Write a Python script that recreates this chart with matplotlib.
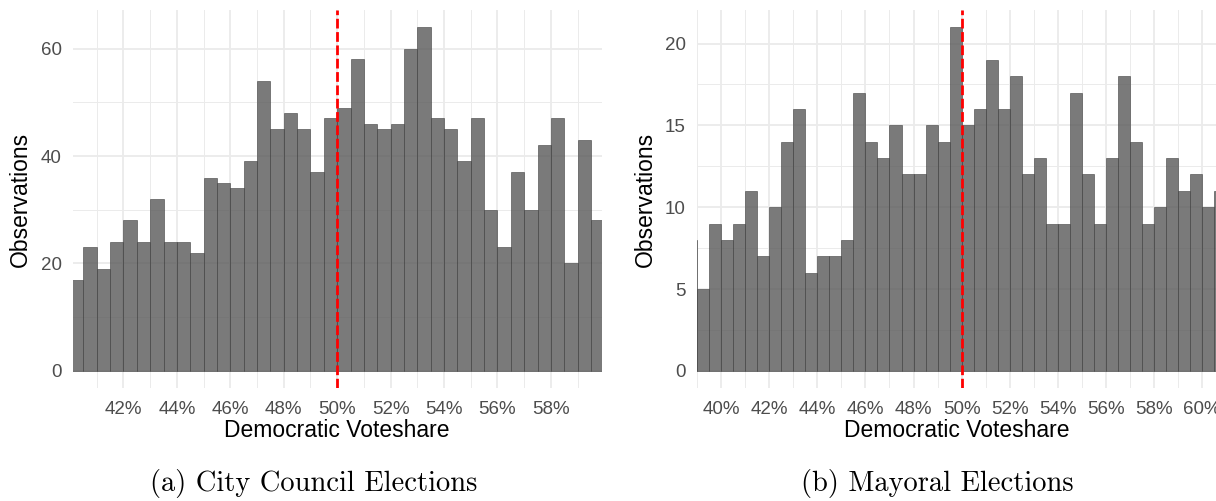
import numpy as np
import matplotlib.pyplot as plt
from matplotlib.ticker import MultipleLocator, FuncFormatter

plt.rcParams['font.family'] = ['Liberation Sans', 'DejaVu Sans']

# counts per 0.5-point bin of democratic voteshare
bin_width = 0.5
council_start = 40.0
council_counts = [17, 23, 19, 24, 28, 24, 32, 24, 24, 22,
                  36, 35, 34, 39, 54, 45, 48, 45, 37, 47,
                  49, 58, 46, 45, 46, 60, 64, 47, 45, 39,
                  47, 30, 23, 37, 30, 42, 47, 20, 43, 28]
mayor_start = 38.5
mayor_counts = [8, 5, 9, 8, 9, 11, 7, 10, 14, 16, 6, 7, 7, 8, 17, 14, 13, 15, 12, 12, 15, 14, 21,
                15, 16, 19, 16, 18, 12, 13, 9, 9, 17, 12, 9, 13, 18, 14, 9, 10, 13, 11, 12, 10, 11]
cutoff = 50
captions = ["(a) City Council Elections", "(b) Mayoral Elections"]

fig = plt.figure(figsize=(12.16, 5.01), dpi=100)
ax1 = fig.add_axes([0.0598, 0.2255, 0.435, 0.7545])
ax2 = fig.add_axes([0.5732, 0.2255, 0.4268, 0.7545])

panels = [
    (ax1, council_start, council_counts, (40.1, 59.9), 20, 10),
    (ax2, mayor_start, mayor_counts, (39.0, 60.57), 5, 2.5),
]

for ax, start, counts, xlim, ymaj, ymin in panels:
    left = start + bin_width * np.arange(len(counts))
    ax.bar(left, counts, width=bin_width, align='edge', color='#595959', alpha=0.8,
           edgecolor='#404040', linewidth=0.5, zorder=2)
    ax.axvline(cutoff, color='#ff0000', lw=2, dashes=(3.5, 1.3), zorder=3)
    top = max(counts[1:] if start < xlim[0] - 0.4 else counts) * 1.05
    ax.set_xlim(*xlim)
    ax.set_ylim(-top / 21, top)
    ax.xaxis.set_major_locator(MultipleLocator(2))
    ax.xaxis.set_minor_locator(MultipleLocator(1))
    ax.yaxis.set_major_locator(MultipleLocator(ymaj))
    ax.yaxis.set_minor_locator(MultipleLocator(ymin))
    ax.xaxis.set_major_formatter(FuncFormatter(lambda v, p: f"{v:.0f}%"))
    ax.grid(which='major', color='#ebebeb', lw=1.3, zorder=0)
    ax.grid(which='minor', color='#ebebeb', lw=0.7, zorder=0)
    ax.set_axisbelow(True)
    for s in ax.spines.values():
        s.set_visible(False)
    ax.tick_params(which='both', length=0, labelsize=13.5, labelcolor='#4d4d4d')
    ax.tick_params(axis='x', pad=9)
    ax.tick_params(axis='y', pad=8)
    ax.set_xlabel("Democratic Voteshare", fontsize=16.5, labelpad=1)
    ax.set_ylabel("Observations", fontsize=16.5, labelpad=6)

fig.text(0.258, 0.034, captions[0], family='cmr10', fontsize=20.5, ha='center', va='center')
fig.text(0.771, 0.034, captions[1], family='cmr10', fontsize=20.5, ha='center', va='center')

fig.savefig("out.png", dpi=100)
